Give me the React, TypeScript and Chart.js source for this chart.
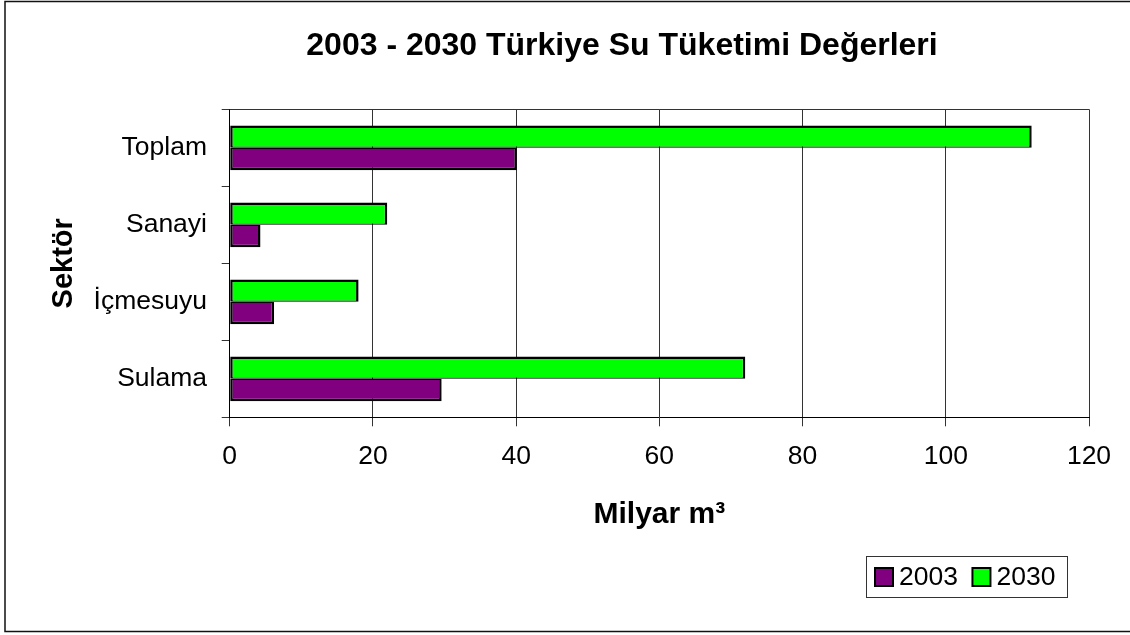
import React, { useEffect, useRef } from 'react';
import { Chart, registerables } from 'chart.js';

Chart.register(...registerables);

const FONT = '"Liberation Sans", Arial, Helvetica, sans-serif';

const chartTitle = '2003 - 2030 Türkiye Su Tüketimi Değerleri';
// bottom-to-top order (the category axis is reversed so Toplam sits on top)
const categories = ['Sulama', 'İçmesuyu', 'Sanayi', 'Toplam'];
const seriesLabels = ['2003', '2030'];
const values2003 = [29.6, 6.2, 4.3, 40.1];
const values2030 = [72, 18, 22, 112];
const xMin = 0;
const xMax = 120;
const xStep = 20;
const xAxisTitle = 'Milyar m³';
const yAxisTitle = 'Sektör';

const COLOR_2003 = '#800080';
const COLOR_2030 = '#00FF00';

const decorPlugin = {
  id: 'decor',
  afterDraw(chart: any) {
    const ctx = chart.ctx as CanvasRenderingContext2D;
    const a = chart.chartArea;
    ctx.save();
    // top border of plot area
    ctx.strokeStyle = '#333';
    ctx.lineWidth = 1;
    const ty = Math.round(a.top) + 0.5;
    ctx.beginPath();
    ctx.moveTo(a.left, ty);
    ctx.lineTo(a.right, ty);
    ctx.stroke();

    // outer chart border
    ctx.strokeStyle = '#111';
    ctx.lineWidth = 1.5;
    ctx.strokeRect(5, 1.5, 1140, 630);

    // title
    ctx.fillStyle = '#000';
    ctx.font = `bold 32px ${FONT}`;
    ctx.textAlign = 'center';
    ctx.textBaseline = 'middle';
    ctx.fillText(chartTitle, 622, 46);

    // legend (2003 first, as in the reference)
    ctx.strokeStyle = '#333';
    ctx.lineWidth = 1;
    ctx.strokeRect(866.5, 556.5, 201, 41);
    ctx.font = `26.5px ${FONT}`;
    ctx.textAlign = 'left';
    let x = 875;
    const items = [...chart.data.datasets].sort((p: any, q: any) =>
      seriesLabels.indexOf(p.label) - seriesLabels.indexOf(q.label)
    );
    items.forEach((ds: any) => {
      ctx.fillStyle = ds.backgroundColor;
      ctx.fillRect(x, 568, 18, 18);
      ctx.strokeStyle = '#000';
      ctx.lineWidth = 2;
      ctx.strokeRect(x, 568, 18, 18);
      ctx.fillStyle = '#000';
      ctx.fillText(ds.label, x + 24, 577.5);
      x += 24 + ctx.measureText(ds.label).width + 14.5;
    });
    ctx.restore();
  },
};

export default function App() {
  const canvasRef = useRef<HTMLCanvasElement | null>(null);

  useEffect(() => {
    if (!canvasRef.current) return;
    const chart = new Chart(canvasRef.current, {
      type: 'bar',
      data: {
        labels: categories,
        datasets: [
          {
            label: seriesLabels[1],
            data: values2030,
            backgroundColor: COLOR_2030,
            borderColor: '#000',
            borderWidth: { top: 2.5, bottom: 1.25, left: 2.5, right: 2.5 },
            borderSkipped: false,
            categoryPercentage: 0.58,
            barPercentage: 1,
          },
          {
            label: seriesLabels[0],
            data: values2003,
            backgroundColor: COLOR_2003,
            borderColor: '#000',
            borderWidth: { top: 1.25, bottom: 2.5, left: 2.5, right: 2.5 },
            borderSkipped: false,
            categoryPercentage: 0.58,
            barPercentage: 1,
          },
        ],
      },
      options: {
        indexAxis: 'y',
        animation: false,
        responsive: true,
        maintainAspectRatio: false,
        layout: { padding: { left: 0, right: 41, top: 109.3, bottom: 0 } },
        plugins: {
          legend: { display: false },
          title: { display: false },
          tooltip: { enabled: false },
        },
        scales: {
          x: {
            type: 'linear',
            min: xMin,
            max: xMax,
            ticks: {
              stepSize: xStep,
              color: '#000',
              font: { family: FONT, size: 26.5 },
              padding: 14.5,
            },
            grid: {
              color: '#333',
              lineWidth: 1,
              drawTicks: true,
              tickLength: 9,
            },
            border: { color: '#000', width: 1 },
            title: {
              display: true,
              text: xAxisTitle,
              color: '#000',
              font: { family: FONT, size: 30, weight: 'bold' },
              padding: { top: 0, bottom: 102.5 },
            },
            afterFit(scale: any) {
              scale.height = 217.7;
            },
          },
          y: {
            type: 'category',
            reverse: true,
            ticks: {
              color: '#000',
              font: { family: FONT, size: 26.5 },
              padding: 14.7,
            },
            grid: {
              drawOnChartArea: false,
              drawTicks: true,
              tickLength: 8,
              color: '#333',
            },
            border: { color: '#000', width: 1 },
            title: {
              display: true,
              text: yAxisTitle,
              color: '#000',
              font: { family: FONT, size: 29, weight: 'bold' },
              padding: { top: 46.5, bottom: 0 },
            },
            afterFit(scale: any) {
              scale.width = 229.7;
            },
          },
        },
      },
      plugins: [decorPlugin],
    });
    return () => chart.destroy();
  }, []);

  return (
    <div style={{ position: 'fixed', left: 0, top: 0, width: 1130, height: 635, background: '#fff' }}>
      <canvas ref={canvasRef} style={{ display: 'block' }} />
    </div>
  );
}
